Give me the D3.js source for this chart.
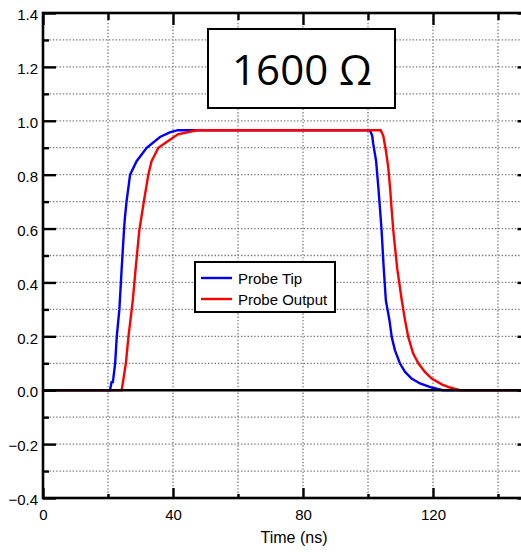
<!DOCTYPE html>
<meta charset="utf-8">
<style>
  body { margin: 0; background: #fff; }
  svg { display: block; }
</style>
<script src="https://d3js.org/d3.v7.min.js"></script>
<svg id="chart" width="521" height="553"></svg>
<script>
  // data (time in ns, normalised amplitude)
  var tipTime = [0, 20.6, 21.1, 21.5, 22.2, 22.7, 23.5, 24.2, 24.9, 25.2, 25.7, 26.8, 28.8, 31.9, 36, 39, 41.5,
    100.6, 101.3, 101.6, 102.5, 103.2, 103.9, 104.2, 104.8, 105.5, 106.6, 107.3, 108.3, 109.8, 111.4, 113.4, 116, 119.6, 123, 150];
  var tipValue = [0, 0, 0.03, 0.03, 0.1, 0.2, 0.3, 0.45, 0.59, 0.64, 0.7, 0.8, 0.85, 0.9, 0.94, 0.957, 0.965,
    0.965, 0.944, 0.915, 0.85, 0.75, 0.64, 0.59, 0.46, 0.333, 0.26, 0.197, 0.148, 0.1, 0.068, 0.043, 0.025, 0.01, 0, 0];
  var outTime = [0, 24.2, 24.6, 25.5, 26.3, 27.3, 27.6, 28.5, 29.6, 30.9, 32.4, 33.4, 35.5, 38.6, 41.5, 47.3,
    103.9, 104.7, 105.5, 106.2, 106.8, 107.3, 107.8, 109, 110.4, 111.4, 112.4, 113.9, 115.5, 117.5, 119.6, 122.7, 125.2, 128.3, 150];
  var outValue = [0, 0, 0.03, 0.1, 0.2, 0.3, 0.33, 0.45, 0.59, 0.69, 0.8, 0.85, 0.9, 0.926, 0.95, 0.965,
    0.965, 0.944, 0.89, 0.83, 0.75, 0.667, 0.59, 0.45, 0.333, 0.26, 0.197, 0.136, 0.1, 0.068, 0.043, 0.022, 0.01, 0, 0];

  var seriesNames = ["Probe Tip", "Probe Output"];
  var seriesColors = ["#0000ff", "#ff0000"];

  var xMajor = [0, 40, 80, 120];
  var xMinor = [20, 60, 100, 140];
  var yMajor = [-0.4, -0.2, 0.0, 0.2, 0.4, 0.6, 0.8, 1.0, 1.2, 1.4];
  var yMinor = [-0.3, -0.1, 0.1, 0.3, 0.5, 0.7, 0.9, 1.1, 1.3];
  var titleText = "1600 \u03A9";

  var svg = d3.select("#chart");
  var plotLeft = 43, plotRight = 530.5, plotTop = 13, plotBottom = 498;

  var x = d3.scaleLinear().domain([0, 150]).range([plotLeft, plotRight]);
  var y = d3.scaleLinear().domain([-0.4, 1.4]).range([plotBottom, plotTop]);

  // dotted grid
  var grid = svg.append("g")
    .attr("stroke", "#7a7a7a")
    .attr("stroke-width", 1.3)
    .attr("stroke-dasharray", "1.4,1.9");
  grid.selectAll(".gx")
    .data([20, 40, 60, 80, 100, 120, 140])
    .enter().append("line")
    .attr("x1", d => x(d)).attr("x2", d => x(d))
    .attr("y1", plotTop).attr("y2", plotBottom);
  grid.selectAll(".gy")
    .data(yMinor.concat(yMajor.filter(v => v > -0.4 && v < 1.4 && v !== 0)))
    .enter().append("line")
    .attr("x1", plotLeft).attr("x2", plotRight)
    .attr("y1", d => y(d)).attr("y2", d => y(d));

  // traces
  var line = d3.line()
    .x(d => x(d[0]))
    .y(d => y(d[1]));

  var traces = [
    d3.zip(tipTime, tipValue),
    d3.zip(outTime, outValue)
  ];
  svg.append("g")
    .selectAll("path")
    .data(traces)
    .enter().append("path")
    .attr("d", line)
    .attr("fill", "none")
    .attr("stroke", (d, i) => seriesColors[i])
    .attr("stroke-width", 2.4)
    .attr("stroke-linejoin", "miter");

  // zero line
  svg.append("line")
    .attr("x1", plotLeft).attr("x2", plotRight)
    .attr("y1", y(0)).attr("y2", y(0))
    .attr("stroke", "#000")
    .attr("stroke-width", 2.6);

  // axes, ticks pointing inward
  function styleAxis(g) {
    g.select(".domain").remove();
    g.selectAll(".tick line").attr("stroke", "#000").attr("stroke-width", 2.4);
    g.selectAll("text")
      .attr("fill", "#000")
      .style("font-family", "'Liberation Sans', Arial, sans-serif")
      .style("font-size", "15px");
  }

  svg.append("g")
    .attr("transform", "translate(" + plotLeft + ",0)")
    .call(d3.axisLeft(y).tickValues(yMajor).tickSize(-13).tickPadding(5).tickFormat(d3.format(".1f")))
    .call(styleAxis)
    .selectAll("text").attr("dy", "0.45em");
  svg.append("g")
    .attr("transform", "translate(" + plotLeft + ",0)")
    .call(d3.axisLeft(y).tickValues(yMinor).tickSize(-6).tickFormat(""))
    .call(styleAxis);
  svg.append("g")
    .attr("transform", "translate(" + plotRight + ",0)")
    .call(d3.axisRight(y).tickValues(yMajor).tickSize(-13).tickFormat(""))
    .call(styleAxis);
  svg.append("g")
    .attr("transform", "translate(" + plotRight + ",0)")
    .call(d3.axisRight(y).tickValues(yMinor).tickSize(-6).tickFormat(""))
    .call(styleAxis);

  svg.append("g")
    .attr("transform", "translate(0," + plotBottom + ")")
    .call(d3.axisBottom(x).tickValues(xMajor).tickSize(-10).tickPadding(11).tickFormat(d3.format("d")))
    .call(styleAxis);
  svg.append("g")
    .attr("transform", "translate(0," + plotBottom + ")")
    .call(d3.axisBottom(x).tickValues(xMinor).tickSize(-4).tickFormat(""))
    .call(styleAxis);
  svg.append("g")
    .attr("transform", "translate(0," + plotTop + ")")
    .call(d3.axisTop(x).tickValues(xMajor).tickSize(-12).tickFormat(""))
    .call(styleAxis);
  svg.append("g")
    .attr("transform", "translate(0," + plotTop + ")")
    .call(d3.axisTop(x).tickValues(xMinor).tickSize(-7).tickFormat(""))
    .call(styleAxis);

  // frame
  svg.append("rect")
    .attr("x", plotLeft).attr("y", plotTop)
    .attr("width", plotRight - plotLeft).attr("height", plotBottom - plotTop)
    .attr("fill", "none")
    .attr("stroke", "#000")
    .attr("stroke-width", 2.6);

  // axis title
  svg.append("text")
    .attr("x", 294)
    .attr("y", 543)
    .attr("text-anchor", "middle")
    .style("font-family", "'Liberation Sans', Arial, sans-serif")
    .style("font-size", "16px")
    .text("Time (ns)");

  // resistance label box
  svg.append("rect")
    .attr("x", 208).attr("y", 29)
    .attr("width", 187).attr("height", 79)
    .attr("fill", "#fff")
    .attr("stroke", "#000")
    .attr("stroke-width", 2);
  svg.append("text")
    .attr("x", 302)
    .attr("y", 85)
    .attr("text-anchor", "middle")
    .style("font-family", "'Open Sans', sans-serif")
    .style("font-size", "42px")
    .text(titleText);

  // legend
  var legend = svg.append("g");
  legend.append("rect")
    .attr("x", 195).attr("y", 262)
    .attr("width", 140).attr("height", 50)
    .attr("fill", "#fff")
    .attr("stroke", "#000")
    .attr("stroke-width", 2);
  var items = legend.selectAll(".item")
    .data(seriesNames)
    .enter().append("g")
    .attr("transform", (d, i) => "translate(0," + (278 + i * 21) + ")");
  items.append("line")
    .attr("x1", 201).attr("x2", 232)
    .attr("stroke", (d, i) => seriesColors[i])
    .attr("stroke-width", 2.4);
  items.append("text")
    .attr("x", 238)
    .attr("y", 6)
    .style("font-family", "'Liberation Sans', Arial, sans-serif")
    .style("font-size", "15px")
    .text(d => d);
</script>
